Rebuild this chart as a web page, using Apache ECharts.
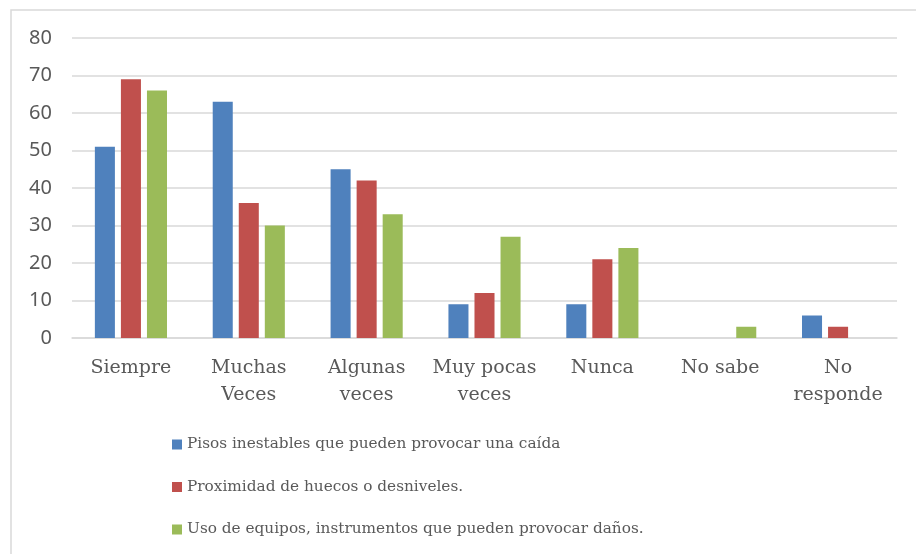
<!DOCTYPE html>
<html>
<head>
<meta charset="utf-8">
<script src="https://cdn.jsdelivr.net/npm/echarts@6/dist/echarts.min.js"></script>
<style>
  html, body { margin: 0; padding: 0; background: #fff; }
  #chart { width: 916px; height: 554px; }
</style>
</head>
<body>
<div id="chart"></div>
<script>
// categorias del eje x (con salto de linea como en el original)
var categories = ['Siempre', 'Muchas\nVeces', 'Algunas\nveces', 'Muy pocas\nveces', 'Nunca', 'No sabe', 'No\nresponde']
var seriesNames = [
	'Pisos inestables que pueden provocar una caída',
	'Proximidad de huecos o desniveles.',
	'Uso de equipos, instrumentos que pueden provocar daños.'
]
var pisos = [51, 63, 45, 9, 9, 0, 6]
var huecos = [69, 36, 42, 12, 21, 0, 3]
var equipos = [66, 30, 33, 27, 24, 3, 0]
var colors = ['#4F81BD', '#C0504D', '#9BBB59']

var serif = '"DejaVu Serif", serif'
var sans = '"Noto Sans", sans-serif'
var myChart = echarts.init(document.getElementById('chart'))

function bar(name, data, color) {
	return {
		name: name,
		type: 'bar',
		data: data,
		barWidth: '17%',
		barGap: '30%',
		itemStyle: { color: color }
	}
}

myChart.setOption({
	animation: false,
	color: colors,
	graphic: [{
		type: 'rect',
		shape: { x: 11, y: 10, width: 1000, height: 1000 },
		style: { fill: 'none', stroke: '#d9d9d9', lineWidth: 1.5 },
		silent: true
	}],
	grid: { left: 72, right: 19, top: 38, bottom: 216 },
	legend: {
		orient: 'vertical',
		left: 167,
		top: 432,
		itemWidth: 10,
		itemHeight: 10,
		itemGap: 27.5,
		icon: 'rect',
		textStyle: { fontFamily: serif, fontSize: 15.3, color: '#595959' },
		data: seriesNames
	},
	xAxis: {
		type: 'category',
		data: categories,
		axisLine: { lineStyle: { color: '#d9d9d9', width: 1.5 } },
		axisTick: { show: false },
		axisLabel: {
			interval: 0,
			margin: 17,
			color: '#595959',
			fontFamily: serif,
			fontSize: 19,
			lineHeight: 27
		}
	},
	yAxis: {
		type: 'value',
		min: 0,
		max: 80,
		interval: 10,
		axisLine: { show: false },
		axisTick: { show: false },
		splitLine: { lineStyle: { color: '#d9d9d9', width: 1.5 } },
		axisLabel: {
			margin: 20,
			color: '#595959',
			fontFamily: sans,
			fontSize: 20
		}
	},
	series: [
		bar(seriesNames[0], pisos, colors[0]),
		bar(seriesNames[1], huecos, colors[1]),
		bar(seriesNames[2], equipos, colors[2])
	]
})
</script>
</body>
</html>
